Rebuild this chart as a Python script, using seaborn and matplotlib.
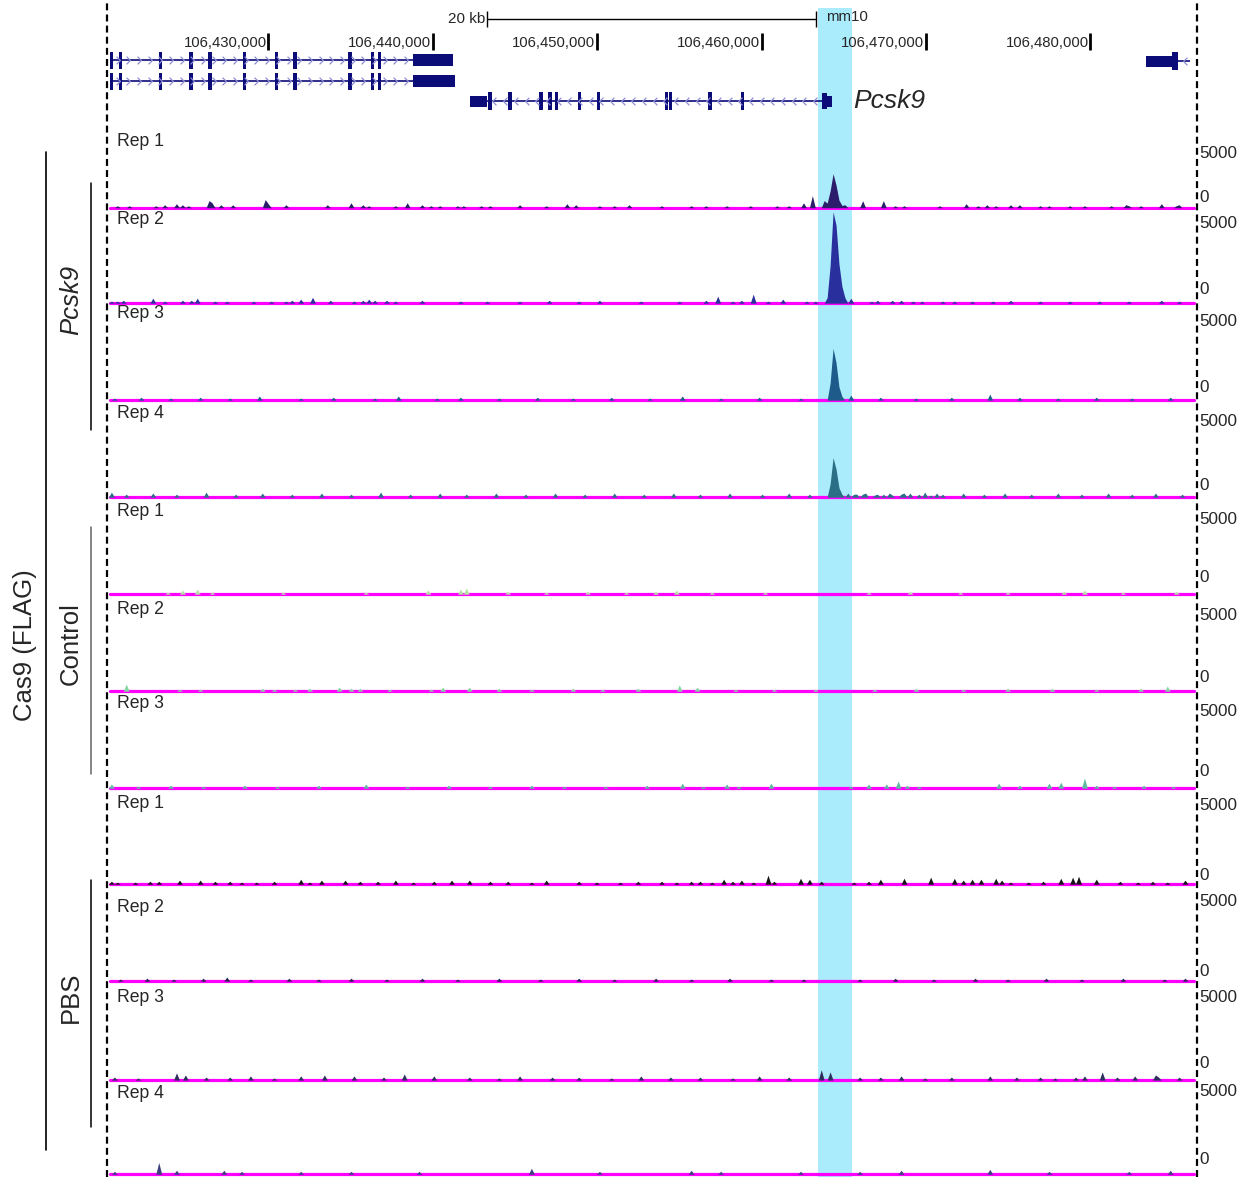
import numpy as np
import pandas as pd
import matplotlib
matplotlib.use("Agg")
import matplotlib.pyplot as plt
from matplotlib.lines import Line2D
from matplotlib.path import Path
import seaborn as sns

# all positions in kb past chr9:106,400,000 (mm10), signal in reads

# window / highlighted Pcsk9 target site
window_kb = (20.2, 86.48)
highlight_kb = (63.43, 65.50)
axis_ticks_kb = [30, 40, 50, 60, 70, 80]
scalebar_kb = (43.31, 63.31)

# genes
upstream_exons = [20.49, 21.0, 23.47, 25.31, 26.47, 28.54, 30.52, 31.64, 34.98, 36.36, 36.76]
upstream_start = 20.39
upstream_utr_a = (38.81, 41.24)
upstream_utr_b = (38.81, 41.36)
pcsk9_exons = [43.49, 44.71, 46.59, 47.14, 47.55, 48.92, 50.08, 54.23, 54.48, 56.87, 58.86]
pcsk9_utr3 = (42.28, 43.31)
pcsk9_exon1 = (63.66, 64.27)
downstream_utr = (83.38, 84.96)
downstream_exon = (84.96, 85.32)
downstream_end = 86.05

# Cas9 (FLAG) ChIP, Pcsk9 guide
pcsk9_rep1_pos = [20.87, 21.48, 23.12, 23.73, 24.34, 24.77, 25.07, 26.35, 26.59, 27.2, 27.87, 29.81,
                  29.99, 31.15, 33.58, 35.10, 35.71, 36.20, 37.72, 38.51, 39.36, 39.97, 40.5, 41.49,
                  41.85, 42.9, 43.49, 45.32, 46.84, 48.23, 48.66, 50.18, 51.1, 52.00, 53.83, 55.65,
                  56.56, 57.90, 59.3, 60.94, 61.61, 62.64, 63.13, 63.86, 64.03, 64.21, 64.39, 64.57,
                  64.75, 64.93, 65.14, 66.17, 67.33, 68.12, 68.72, 70.85, 72.37, 73.16, 73.77, 74.20,
                  75.1, 75.72, 76.9, 77.54, 78.76, 79.7, 81.19, 82.10, 82.4, 83.01, 84.23, 85.14, 85.4]
pcsk9_rep1_reads = [130, 130, 130, 200, 270, 200, 130, 470, 330, 200, 200, 540,
                    270, 200, 200, 330, 200, 130, 130, 330, 200, 130, 130, 130,
                    130, 130, 130, 200, 130, 270, 200, 130, 130, 200, 130, 130,
                    130, 130, 130, 130, 130, 330, 800, 470, 300, 1100, 2250, 1500,
                    500, 150, 200, 470, 470, 130, 130, 130, 270, 130, 200, 130,
                    200, 200, 130, 130, 130, 130, 130, 200, 130, 130, 270, 130, 200]

pcsk9_rep2_pos = [20.51, 20.87, 21.24, 22.94, 23.73, 24.83, 25.25, 25.68, 26.77, 27.56, 29.02, 30.12,
                  31.15, 31.51, 32.06, 32.73, 33.76, 35.28, 35.71, 36.20, 36.50, 37.11, 37.72, 39.36,
                  41.67, 43.31, 45.32, 47.14, 48.96, 50.18, 52.61, 55.04, 56.56, 57.29, 58.27, 58.69,
                  59.48, 60.33, 61.31, 62.77, 63.25, 64.03, 64.21, 64.39, 64.57, 64.75, 64.93, 65.11,
                  65.50, 66.60, 67.02, 68.00, 68.42, 69.21, 69.76, 70.97, 71.64, 72.86, 74.01, 75.11,
                  76.93, 78.76, 80.58, 82.40, 84.23, 85.44]
pcsk9_rep2_reads = [110, 110, 160, 270, 110, 160, 160, 270, 110, 110, 110, 110,
                    110, 160, 220, 320, 160, 110, 160, 220, 160, 160, 110, 160,
                    110, 110, 110, 160, 110, 160, 110, 110, 160, 380, 110, 160,
                    490, 110, 220, 110, 110, 300, 2000, 4900, 4200, 2100, 900, 300,
                    270, 110, 160, 160, 160, 110, 110, 110, 110, 110, 110, 160,
                    110, 110, 110, 110, 160, 110]

pcsk9_rep3_pos = [20.6, 22.3, 24.0, 25.9, 27.6, 29.5, 31.9, 34.0, 36.4, 37.9, 40.3, 41.7, 44.1,
                  46.3, 48.5, 50.9, 53.2, 55.1, 57.5, 59.8, 62.4, 64.21, 64.39, 64.57, 64.75,
                  64.93, 65.5, 67.2, 69.4, 71.6, 73.8, 75.6, 78.0, 80.3, 82.6, 84.8]
pcsk9_rep3_reads = [110, 160, 110, 160, 110, 220, 110, 160, 110, 220, 110, 160, 110,
                    160, 110, 160, 110, 220, 110, 160, 110, 900, 2750, 2000, 700,
                    200, 270, 160, 110, 160, 320, 160, 110, 160, 110, 160]

pcsk9_rep4_pos = [20.5, 21.4, 23.0, 24.5, 26.3, 28.0, 29.6, 31.5, 33.3, 35.0, 36.8, 38.6, 40.4,
                  42.0, 43.8, 45.7, 47.4, 49.3, 51.0, 52.8, 54.7, 56.3, 58.1, 60.0, 61.7, 63.0,
                  64.21, 64.39, 64.57, 64.75, 64.93, 65.3, 65.6, 65.8, 66.2, 66.4, 66.8, 67.0,
                  67.35, 67.7, 68.0, 68.4, 68.75, 69.1, 69.5, 69.9, 70.3, 70.6, 71.0, 72.2, 73.5,
                  74.8, 76.4, 78.0, 79.5, 81.0, 82.6, 84.0, 85.6]
pcsk9_rep4_reads = [270, 160, 220, 160, 270, 160, 220, 160, 220, 160, 270, 160, 220,
                    160, 220, 160, 220, 160, 220, 160, 220, 160, 220, 160, 220, 160,
                    700, 2100, 1500, 500, 150, 220, 160, 160, 160, 220, 110, 160,
                    160, 220, 110, 160, 220, 220, 160, 270, 110, 220, 160, 220, 160,
                    220, 160, 220, 160, 220, 160, 220, 160]

# control guide
control_rep1_pos = [23.85, 24.83, 25.74, 26.65, 30.91, 35.89, 39.72, 41.67, 42.03, 44.5, 46.9, 49.4,
                    51.8, 53.6, 54.9, 57.0, 60.2, 66.5, 69.0, 72.0, 75.0, 78.3, 79.6, 82.0, 85.3]
control_rep1_reads = [110, 220, 270, 110, 110, 110, 220, 270, 330, 160, 110, 160,
                      110, 160, 220, 110, 110, 110, 160, 110, 110, 160, 220, 110, 160]

control_rep2_pos = [21.3, 24.64, 25.86, 29.63, 30.42, 31.64, 32.55, 34.25, 34.98, 35.59, 37.41, 39.84,
                    40.57, 42.28, 44.0, 46.0, 48.5, 50.4, 52.5, 55.0, 56.0, 58.4, 60.7, 63.2, 66.8,
                    69.3, 72.3, 75.0, 77.6, 80.4, 83.0, 84.6]
control_rep2_reads = [380, 110, 110, 160, 110, 110, 160, 220, 160, 160, 110, 110,
                      220, 220, 160, 110, 160, 110, 160, 330, 220, 110, 110, 110, 110,
                      160, 110, 160, 160, 110, 160, 270]

control_rep3_pos = [20.5, 22.0, 24.0, 26.0, 28.5, 30.6, 33.0, 35.9, 38.5, 41.0, 43.5, 46.0, 48.0,
                    50.5, 53.0, 55.1, 56.5, 57.90, 58.51, 60.52, 65.50, 66.47, 67.63, 68.30, 68.85,
                    69.64, 74.50, 75.59, 77.42, 78.15, 79.55, 80.28, 81.5, 83.2, 85.0]
control_rep3_reads = [220, 110, 160, 110, 160, 110, 160, 220, 110, 160, 110, 160, 110,
                      110, 160, 270, 110, 220, 110, 270, 110, 220, 220, 380, 160,
                      110, 270, 160, 270, 320, 540, 160, 110, 160, 110]

# PBS injected
pbs_rep1_pos = [20.39, 20.9, 21.9, 22.8, 23.4, 24.6, 25.86, 26.8, 27.7, 28.3, 29.2, 30.4, 31.94,
                32.5, 33.16, 34.68, 35.59, 36.7, 37.72, 38.8, 40.15, 41.2, 42.28, 43.49, 44.5,
                45.93, 46.9, 48.96, 50.0, 51.4, 52.5, 53.83, 54.8, 55.65, 56.3, 57.05, 57.78, 58.27,
                58.75, 59.48, 60.39, 60.82, 62.34, 62.83, 63.68, 65.68, 66.47, 67.20, 68.60, 70.24,
                71.76, 72.19, 72.80, 73.41, 74.20, 74.62, 75.11, 76.3, 77.2, 78.15, 78.88, 79.24,
                80.28, 81.8, 82.9, 83.7, 84.7, 85.7]
pbs_rep1_reads = [160, 110, 110, 160, 160, 220, 220, 160, 160, 110, 110, 160, 270,
                  110, 220, 220, 160, 160, 220, 110, 160, 220, 220, 160, 160,
                  110, 220, 160, 110, 110, 160, 160, 110, 160, 160, 110, 270, 160,
                  220, 110, 490, 160, 320, 270, 160, 110, 160, 270, 320, 380,
                  320, 220, 270, 270, 320, 220, 110, 110, 160, 320, 380, 430,
                  270, 160, 110, 160, 110, 220]

pbs_rep2_pos = [21.0, 22.6, 24.3, 26.0, 27.5, 29.0, 31.3, 33.0, 35.0, 37.2, 39.4, 41.5, 44.0, 46.5,
                48.8, 51.0, 53.5, 55.8, 58.0, 60.5, 62.5, 66.0, 68.2, 70.5, 72.9, 75.0, 77.3, 79.5,
                82.0, 84.5, 85.8]
pbs_rep2_reads = [110, 160, 110, 160, 220, 110, 160, 110, 160, 110, 160, 110, 160, 110,
                  160, 110, 160, 110, 160, 110, 110, 110, 160, 110, 160, 110, 160, 110,
                  160, 110, 160]

pbs_rep3_pos = [20.6, 22.1, 24.34, 24.95, 26.2, 27.68, 28.9, 30.4, 31.94, 33.46, 35.28, 37.0, 38.32,
                40.1, 42.28, 44.0, 45.32, 47.3, 48.96, 50.9, 52.61, 54.5, 56.26, 58.3, 59.9, 61.71,
                63.68, 64.16, 65.9, 67.2, 68.42, 70.0, 71.46, 73.89, 75.5, 76.93, 77.9, 79.06,
                79.67, 80.76, 81.6, 82.7, 83.9, 84.2, 85.4]
pbs_rep3_reads = [160, 110, 380, 270, 160, 160, 220, 110, 220, 270, 220, 160, 320,
                  220, 160, 110, 220, 160, 160, 110, 220, 160, 160, 110, 220, 160,
                  540, 430, 160, 160, 220, 110, 160, 220, 160, 160, 110, 160,
                  220, 430, 160, 220, 270, 160, 160]

pbs_rep4_pos = [20.7, 23.43, 24.34, 27.38, 28.3, 31.94, 34.98, 39.24, 45.93, 50.18, 55.65, 57.48,
                62.34, 65.99, 68.42, 73.89, 77.54, 82.4, 84.84]
pbs_rep4_reads = [160, 650, 220, 220, 160, 160, 160, 160, 330, 160, 220, 160,
                  160, 160, 220, 270, 160, 160, 220]

track_colors = ["#2b1d6b", "#2a2f9e", "#1e5a8a", "#2a6f86",
                "#b4e3a3", "#84d6a0", "#5ebba1",
                "#141414", "#262650", "#2e2e5e", "#3b3f7f"]

W, H = 1247, 1177
X0, X1 = 107, 1197
BIN_KB = 0.18
NAVY = "#0c0c78"
MAGENTA = "#ff00ff"
CHEVRON = "#8f8fd6"

# open chevrons for strand direction
RIGHT_CHEV = Path([(-0.5, 1), (0.5, 0), (-0.5, -1)], [Path.MOVETO, Path.LINETO, Path.LINETO])
LEFT_CHEV = Path([(0.5, 1), (-0.5, 0), (0.5, -1)], [Path.MOVETO, Path.LINETO, Path.LINETO])

# pixel rows of each track: top, bottom, "Rep" label, "5000" label, "0" label
LAYOUT = [(132, 210, 141, 153, 197), (210, 306, 220, 223, 290), (306, 403, 314, 321, 388),
          (403, 500, 413, 421, 486), (500, 597, 511, 519, 578), (597, 694, 609, 615, 677),
          (694, 791, 704, 712, 771), (791, 887, 804, 806, 875), (887, 984, 907, 902, 972),
          (984, 1083, 998, 998, 1064), (1083, 1177, 1094, 1092, 1159)]


def fy(px):
    return 1 - px / H


def fx(px):
    return px / W


def exon_bars(ax, xs, width, yc, height):
    ax.bar(xs, height, bottom=yc - height / 2, width=width, align="edge",
           color=NAVY, linewidth=0)


def chevrons(ax, start, end, yc, mark):
    xs = np.arange(start + 0.45, end - 0.25, 0.65)
    ax.plot(xs, np.full(len(xs), yc), ls="none", marker=mark, ms=5.5, mew=0.9,
            mfc="none", mec=CHEVRON, zorder=3)


sns.set_theme(style="white")
plt.rcParams["font.family"] = ["Liberation Sans", "DejaVu Sans"]
plt.rcParams["lines.scale_dashes"] = False

fig = plt.figure(figsize=(W / 100, H / 100), dpi=100)

# background: highlight band + dashed window borders
bg = fig.add_axes([fx(X0), 0, fx(X1 - X0), 1])
bg.set_zorder(-1)
bg.set_xlim(*window_kb)
bg.set_ylim(H, 0)
bg.axvspan(*highlight_kb, ymin=0, ymax=1 - 8 / H, color="#aaecfb", lw=0)
for x in window_kb:
    bg.axvline(x, color="black", lw=1.6, ls=(0, (5, 3)), clip_on=False)
bg.set_axis_off()

# gene panel (y in pixel rows)
gx = fig.add_axes([fx(X0), fy(125), fx(X1 - X0), 125 / H])
gx.set_xlim(*window_kb)
gx.set_ylim(125, 0)
gx.set_axis_off()

for t in axis_ticks_kb:
    gx.vlines(t, 33, 50, color="black", lw=2)
    gx.text(t - 0.1, 43, f"{int(round((106400 + t) * 1000)):,}", ha="right", va="center", fontsize=10.7)

gx.hlines(19, *scalebar_kb, color="black", lw=1)
gx.vlines(scalebar_kb, 11, 27, color="black", lw=1)
gx.text(scalebar_kb[0] - 0.1, 19, "20 kb", ha="right", va="center", fontsize=11)
gx.text(scalebar_kb[1] + 0.6, 17, "mm10", ha="left", va="center", fontsize=10.8)

for yc, utr in [(60, upstream_utr_a), (81, upstream_utr_b)]:
    gx.hlines(yc, upstream_start, utr[0], color=NAVY, lw=1.2, zorder=2)
    chevrons(gx, upstream_start, utr[0], yc, RIGHT_CHEV)
    exon_bars(gx, [e - 0.1 for e in upstream_exons], 0.2, yc, 17)
    exon_bars(gx, [utr[0]], utr[1] - utr[0], yc, 12)

yc = 101
gx.hlines(yc, pcsk9_utr3[1], pcsk9_exon1[0], color=NAVY, lw=1.2, zorder=2)
chevrons(gx, pcsk9_utr3[1], pcsk9_exon1[0], yc, LEFT_CHEV)
exon_bars(gx, [e - 0.1 for e in pcsk9_exons], 0.2, yc, 18)
exon_bars(gx, [pcsk9_utr3[0]], pcsk9_utr3[1] - pcsk9_utr3[0], yc, 11)
exon_bars(gx, [pcsk9_exon1[0]], 0.33, yc, 16)
exon_bars(gx, [pcsk9_exon1[0]], pcsk9_exon1[1] - pcsk9_exon1[0], yc, 11)
gx.text(pcsk9_exon1[1] + 1.3, yc, "Pcsk9", style="italic", ha="left", va="center", fontsize=19)

yc = 61
gx.hlines(yc, downstream_exon[1], downstream_end, color=NAVY, lw=1.2, zorder=2)
chevrons(gx, downstream_exon[1], downstream_end, yc, LEFT_CHEV)
exon_bars(gx, [downstream_utr[0]], downstream_utr[1] - downstream_utr[0], yc, 11)
exon_bars(gx, [downstream_exon[0]], downstream_exon[1] - downstream_exon[0], yc, 18)

# signal tracks
tracks = [
    ("Rep 1", pcsk9_rep1_pos, pcsk9_rep1_reads), ("Rep 2", pcsk9_rep2_pos, pcsk9_rep2_reads),
    ("Rep 3", pcsk9_rep3_pos, pcsk9_rep3_reads), ("Rep 4", pcsk9_rep4_pos, pcsk9_rep4_reads),
    ("Rep 1", control_rep1_pos, control_rep1_reads), ("Rep 2", control_rep2_pos, control_rep2_reads),
    ("Rep 3", control_rep3_pos, control_rep3_reads),
    ("Rep 1", pbs_rep1_pos, pbs_rep1_reads), ("Rep 2", pbs_rep2_pos, pbs_rep2_reads),
    ("Rep 3", pbs_rep3_pos, pbs_rep3_reads), ("Rep 4", pbs_rep4_pos, pbs_rep4_reads),
]

for (name, pos, reads), color, (top, bot, ry, y5, y0) in zip(tracks, track_colors, LAYOUT):
    ax = fig.add_axes([fx(X0), fy(bot), fx(X1 - X0), (bot - top) / H])
    ax.axhline(0, xmin=0.003, xmax=0.997, color=MAGENTA, lw=2.3, zorder=1)
    df = pd.DataFrame({"pos": pos, "reads": reads})
    sns.histplot(data=df, x="pos", weights="reads", binwidth=BIN_KB, binrange=(20.2, 86.2),
                 element="poly", fill=True, color=color, alpha=1, linewidth=0, ax=ax, zorder=2)
    ax.set_xlim(*window_kb)
    ax.set_ylim(-150, 5000)
    ax.set_axis_off()
    fig.text(fx(117), fy(ry), name, ha="left", va="center", fontsize=12.7)
    fig.text(fx(1199), fy(y5), "5000", ha="left", va="center", fontsize=12.3)
    fig.text(fx(1199), fy(y0), "0", ha="left", va="center", fontsize=12.3)

# sample annotation on the left
fig.add_artist(Line2D([fx(46), fx(46)], [fy(152), fy(1150)], color="black", lw=1.2))
fig.text(fx(25), fy(645), "Cas9 (FLAG)", rotation=90, ha="center", va="center", fontsize=18.5)
for y_a, y_b, y_t, label, style, lc in [(183, 430, 300, "Pcsk9", "italic", "black"),
                                        (527, 774, 644, "Control", "normal", "#666666"),
                                        (880, 1127, 997, "PBS", "normal", "black")]:
    fig.add_artist(Line2D([fx(91), fx(91)], [fy(y_a), fy(y_b)], color=lc, lw=1.1))
    fig.text(fx(71), fy(y_t), label, rotation=90, style=style, ha="center", va="center", fontsize=18.5)

fig.savefig("out.png", dpi=100)
